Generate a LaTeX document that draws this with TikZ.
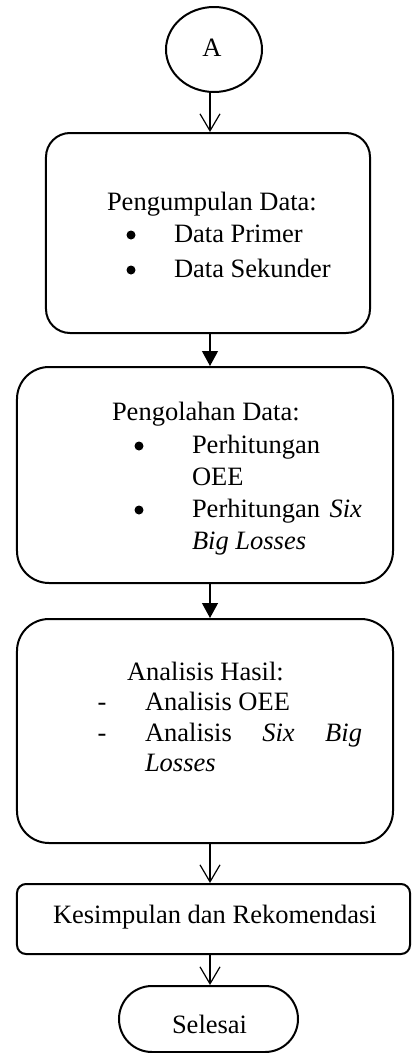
\documentclass[tikz,border=0pt]{standalone}
\usepackage{fontspec}
\setmainfont{Liberation Serif}
\usetikzlibrary{arrows.meta,shapes.geometric}
\tikzset{
  boxshape/.style={draw, line width=2bp, inner sep=0pt, rectangle},
  txt/.style={anchor=base west, inner sep=0pt, outer sep=0pt},
  ctr/.style={anchor=base, inner sep=0pt, outer sep=0pt},
  dotmk/.style={circle, fill, inner sep=0pt, minimum size=9bp},
  openarrow/.style={line width=1.2bp, -{Straight Barb[length=17bp,width=20bp,line width=1.2bp]}},
  fillarrow/.style={line width=1.2bp, -{Triangle[length=15bp,width=16bp]}},
}
\begin{document}
\begin{tikzpicture}[x=1bp,y=-1bp,font=\fontsize{26.5bp}{30bp}\selectfont]
\useasboundingbox (0,0) rectangle (411,1053);
% shapes
\node[draw, line width=2bp, ellipse, minimum width=96bp, minimum height=85bp, inner sep=0pt] (A) at (214,49.5) {};
\node[boxshape, rounded corners=24bp, minimum width=324bp, minimum height=200bp] (b1) at (208,233) {};
\node[boxshape, rounded corners=32bp, minimum width=376bp, minimum height=216bp] (b2) at (205,475) {};
\node[boxshape, rounded corners=32bp, minimum width=376bp, minimum height=224bp] (b3) at (205,731) {};
\node[boxshape, rounded corners=9bp, minimum width=393bp, minimum height=70bp] (b4) at (213.5,919) {};
\node[boxshape, rounded corners=33bp, minimum width=179bp, minimum height=66bp] (end) at (208.5,1019) {};
% texts
\node[ctr] (tA) at (212,56) {A};
\node[txt] (t11) at (107,210) {Pengumpulan Data:};
\node[dotmk] (m11) at (131,235) {};
\node[txt] (t12) at (174,242) {Data Primer};
\node[dotmk] (m12) at (131,270) {};
\node[txt] (t13) at (174,277) {Data Sekunder};
\node[txt] (t21) at (112,420) {Pengolahan Data:};
\node[dotmk] (m21) at (139,446) {};
\node[txt] (t22) at (192,453) {Perhitungan};
\node[txt] (t23) at (192,485) {OEE};
\node[dotmk] (m22) at (139,510) {};
\node[txt] (t24) at (192,517) {\makebox[170bp][s]{Perhitungan \textit{Six}}};
\node[txt] (t25) at (192,549) {\textit{Big Losses}};
\node[txt] (t31) at (127,680) {Analisis Hasil:};
\node[ctr] (m31) at (102,710) {-};
\node[txt] (t32) at (145,710) {Analisis OEE};
\node[ctr] (m32) at (102,741) {-};
\node[txt] (t33) at (145,741) {\makebox[217bp][s]{Analisis \textit{Six} \textit{Big}}};
\node[txt] (t34) at (145,771) {\textit{Losses}};
\node[txt] (t41) at (53,923) {Kesimpulan dan Rekomendasi};
\node[txt] (t51) at (172,1033) {Selesai};
% arrows
\coordinate (ax) at (210,0);
\draw[openarrow] (ax |- A.south) -- (ax |- b1.north);
\draw[fillarrow] (ax |- b1.south) -- (ax |- b2.north);
\draw[fillarrow] (ax |- b2.south) -- (ax |- b3.north);
\draw[openarrow] (ax |- b3.south) -- (ax |- b4.north);
\draw[openarrow] (ax |- b4.south) -- (ax |- end.north);
\end{tikzpicture}
\end{document}
